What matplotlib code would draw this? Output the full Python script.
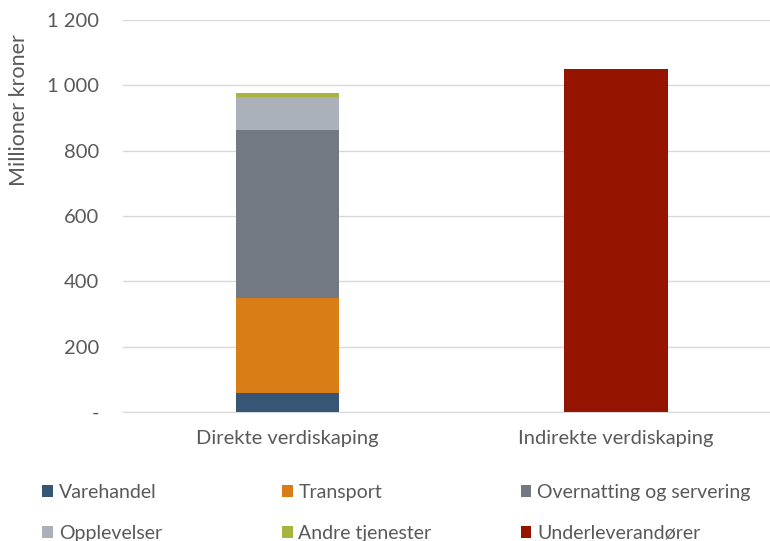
import numpy as np
import matplotlib.pyplot as plt
from matplotlib.patches import Patch

plt.rcParams['font.family'] = ['Lato', 'DejaVu Sans']

categories = ['Direkte verdiskaping', 'Indirekte verdiskaping']
series = ['Varehandel', 'Transport', 'Overnatting og servering',
          'Opplevelser', 'Andre tjenester', 'Underleverandører']
values = {
    'Varehandel': [58, 0],
    'Transport': [292, 0],
    'Overnatting og servering': [513, 0],
    'Opplevelser': [101, 0],
    'Andre tjenester': [12, 0],
    'Underleverandører': [0, 1050],
}
colors = ['#375675', '#D97E17', '#727981', '#ABB1B8', '#A9B43F', '#951400']
yticks = [0, 200, 400, 600, 800, 1000, 1200]
yticklabels = ['-', '200', '400', '600', '800', '1 000', '1 200']

txt = '#595959'
fig = plt.figure(figsize=(7.7, 5.41), dpi=100)
ax = fig.add_axes([123/770, 1-412/541, 1-123/770, 392/541])

x = np.arange(len(categories))
bottom = np.zeros(len(categories))
for s, c in zip(series, colors):
    v = np.array(values[s], dtype=float)
    ax.bar(x, v, bottom=bottom, width=0.314, color=c, zorder=3)
    bottom += v

ax.set_xlim(-0.5, 1 + (770-616)/328.5)
ax.set_ylim(0, 1200)
ax.set_yticks(yticks)
ax.set_yticklabels(yticklabels)
ax.set_xticks(x)
ax.set_xticklabels(categories)
ax.tick_params(axis='y', length=0, labelsize=14.5, colors=txt, pad=17)
ax.tick_params(axis='x', length=0, labelsize=14.5, colors=txt, pad=13)
ax.grid(axis='y', color='#D9D9D9', linewidth=1, zorder=0)
for sp in ['top', 'right', 'left']:
    ax.spines[sp].set_visible(False)
ax.spines['bottom'].set_color('#D9D9D9')
ax.set_ylabel('Millioner kroner', fontsize=15.5, color=txt)
ax.yaxis.set_label_coords(-0.145, 0.77)

# legend: one per column so the columns line up like the original
cols = [(0, 3), (1, 4), (2, 5)]
xpos = [0.055, 0.366, 0.676]
for (i, j), xp in zip(cols, xpos):
    handles = [Patch(facecolor=colors[i], label=series[i]),
               Patch(facecolor=colors[j], label=series[j])]
    fig.legend(handles=handles, loc='upper left', bbox_to_anchor=(xp, 0.106),
               frameon=False, fontsize=14, handlelength=0.55, handleheight=0.55,
               handletextpad=0.3, labelspacing=1.25, labelcolor=txt,
               borderaxespad=0, borderpad=0)

fig.savefig('out.png', dpi=100)
